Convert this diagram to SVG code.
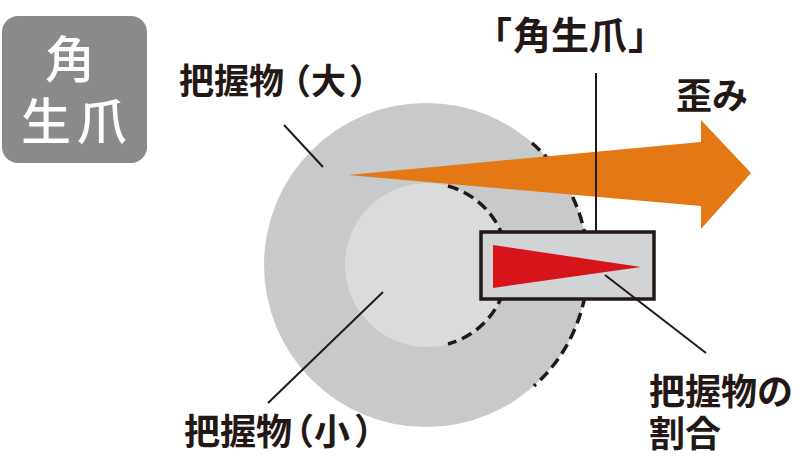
<svg xmlns="http://www.w3.org/2000/svg" width="800" height="458" viewBox="0 0 800 458">
<style>
.t{font-family:"Noto Sans CJK JP","Noto Sans CJK SC",sans-serif;font-weight:700;fill:#231815}
.w{font-family:"Noto Sans CJK JP","Noto Sans CJK SC",sans-serif;font-weight:500;fill:#ffffff}
.dash{fill:none;stroke:#231815;stroke-width:3.5;stroke-dasharray:11 6}
.lead{fill:none;stroke:#231815;stroke-width:2}
</style>
<rect width="800" height="458" fill="#ffffff"/>
<g id="badge">
<rect x="2" y="16" width="145" height="147" rx="16" fill="#8a8a8a"/>
<text class="w" x="70" y="78" font-size="50" text-anchor="middle">角</text>
<text class="w" x="21" y="140" font-size="50" letter-spacing="6">生爪</text>
</g>
<g id="grip-large">
<circle cx="426" cy="265" r="162" fill="#c8c9ca"/>
<path class="dash" d="M532,143 A162,162 0 0 1 534,386"/>
</g>
<g id="grip-small">
<circle cx="427" cy="265" r="82" fill="#dadbdb"/>
<path class="dash" d="M448,186 A82,82 0 0 1 448,344"/>
</g>
<g id="strain-arrow">
<path d="M348,175 L701,142 L701,120 L751,173 L701,229 L701,206 Z" fill="#e47814"/>
</g>
<g id="nail">
<rect x="481" y="232" width="173" height="67" fill="#d2d3d5" stroke="#231815" stroke-width="3.5"/>
<path d="M493,245 L641,267 L493,288 Z" fill="#d7141a"/>
</g>
<g id="connectors">
<line class="lead" x1="284" y1="125" x2="323" y2="167"/>
<line class="lead" x1="383" y1="292" x2="268" y2="403"/>
<line class="lead" x1="596" y1="73" x2="596" y2="231"/>
<line class="lead" x1="605" y1="275" x2="706" y2="353"/>
</g>
<g id="labels">
<text class="t" x="179" y="94" font-size="35">把握物<tspan dx="-8">（</tspan>大<tspan dx="3">）</tspan></text>
<text class="t" x="184" y="445" font-size="36">把握物<tspan dx="-14">（</tspan>小<tspan dx="4">）</tspan></text>
<text class="t" x="649" y="405" font-size="36">把握物の</text>
<text class="t" x="649" y="447" font-size="36">割合</text>
<text class="t" x="676" y="109" font-size="36">歪み</text>
<text class="t" x="474" y="49" font-size="38">「</text>
<text class="t" x="513" y="49" font-size="38">角生爪</text>
<text class="t" x="628" y="49" font-size="38">」</text>
</g>
</svg>
